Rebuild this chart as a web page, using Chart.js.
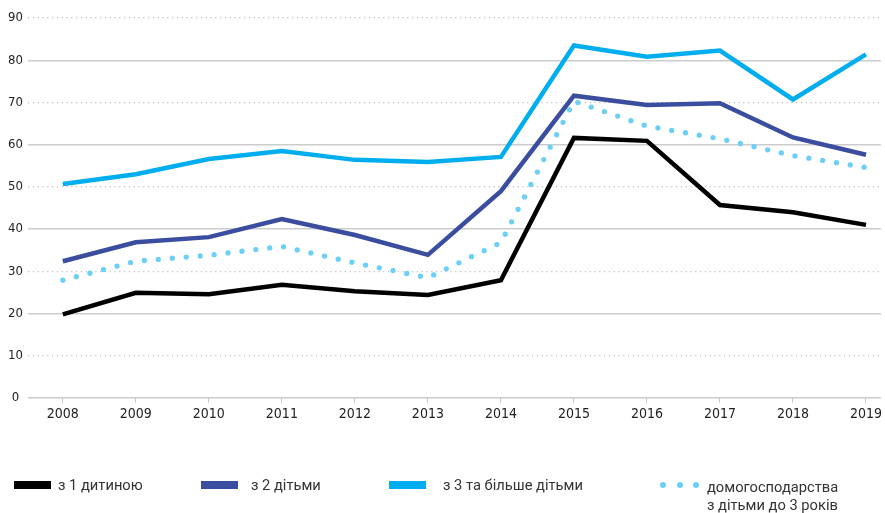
<!DOCTYPE html>
<html lang="uk">
<head>
  <meta charset="UTF-8">
  <title>Домогосподарства з дітьми</title>
  <script src="https://cdn.jsdelivr.net/npm/chart.js"></script>
  <style>
    body { margin: 0; background: #fff; }
    #wrap { position: relative; width: 885px; height: 513px; }
    .mark { position: absolute; }
    .label { position: absolute; font-family: Roboto, "Noto Sans", sans-serif; font-size: 14.7px; line-height: 18px; color: #333; white-space: nowrap; }
    .dot { position: absolute; width: 6px; height: 6px; border-radius: 50%; }
  </style>
</head>
<body>
  <div id="wrap">
    <canvas id="chart" width="885" height="513"></canvas>
    <div id="legend"></div>
  </div>

  <script>
    const years = [2008, 2009, 2010, 2011, 2012, 2013, 2014, 2015, 2016, 2017, 2018, 2019];

    const oneChild = [19.8, 24.9, 24.6, 26.8, 25.3, 24.4, 27.9, 61.6, 60.9, 45.7, 44.0, 41.0];
    const twoChildren = [32.4, 36.9, 38.1, 42.4, 38.6, 33.9, 49.0, 71.6, 69.4, 69.8, 61.7, 57.6];
    const threePlus = [50.7, 53.0, 56.6, 58.5, 56.4, 55.9, 57.1, 83.5, 80.8, 82.3, 70.7, 81.4];
    const under3 = [27.9, 32.4, 33.8, 35.9, 32.0, 28.5, 36.8, 70.3, 64.4, 61.4, 57.4, 54.6];

    const seriesNames = ['з 1 дитиною', 'з 2 дітьми', 'з 3 та більше дітьми', ['домогосподарства', 'з дітьми до 3 років']];
    const seriesColors = ['#000000', '#3a4d9f', '#00aeef', '#6ccff6'];
    const yTicks = [0, 10, 20, 30, 40, 50, 60, 70, 80, 90];

    const axisFont = { family: '"Liberation Sans Narrow", "DejaVu Sans Condensed", Roboto, sans-serif' };

    function points(values) {
      return years.map((y, i) => ({ x: y, y: values[i] }));
    }

    const ctx = document.getElementById('chart').getContext('2d');

    new Chart(ctx, {
      type: 'line',
      data: {
        datasets: [
          {
            label: seriesNames[3][0],
            data: points(under3),
            borderColor: seriesColors[3],
            borderWidth: 5.3,
            borderDash: [0, 14],
            borderCapStyle: 'round',
            order: 0
          },
          {
            label: seriesNames[0],
            data: points(oneChild),
            borderColor: seriesColors[0],
            borderWidth: 4.5,
            order: 1
          },
          {
            label: seriesNames[1],
            data: points(twoChildren),
            borderColor: seriesColors[1],
            borderWidth: 4.5,
            order: 2
          },
          {
            label: seriesNames[2],
            data: points(threePlus),
            borderColor: seriesColors[2],
            borderWidth: 4.5,
            order: 3
          }
        ]
      },
      options: {
        responsive: false,
        animation: false,
        events: [],
        elements: {
          point: { radius: 0 },
          line: { tension: 0, fill: false }
        },
        layout: { padding: { top: 18, left: 0, right: 0, bottom: 0 } },
        plugins: {
          legend: { display: false },
          tooltip: { enabled: false }
        },
        scales: {
          x: {
            type: 'linear',
            min: 2007.523,
            max: 2019.204,
            afterBuildTicks: s => { s.ticks = years.map(v => ({ value: v })); },
            afterFit: s => { s.height = 115; },
            grid: {
              drawOnChartArea: false,
              drawTicks: true,
              tickLength: 5,
              tickColor: '#c8c8c8',
              tickWidth: 1
            },
            border: { display: false },
            ticks: {
              padding: 3,
              color: '#222',
              font: Object.assign({ size: 14 }, axisFont),
              maxRotation: 0,
              autoSkip: false,
              callback: v => String(v)
            }
          },
          y: {
            min: 0,
            max: 90,
            afterBuildTicks: s => { s.ticks = yTicks.map(v => ({ value: v })); },
            afterFit: s => { s.width = 28; },
            grid: {
              drawTicks: false,
              color: c => (c.tick && c.tick.value % 20 ? '#bdbdbd' : '#cccccc'),
              lineWidth: c => (c.tick && c.tick.value % 20 ? 1.2 : 1.4)
            },
            border: {
              display: false,
              dash: c => (c.tick && c.tick.value % 20 ? [1.2, 3.6] : [])
            },
            ticks: {
              padding: 5,
              crossAlign: 'center',
              color: '#222',
              font: Object.assign({ size: 13 }, axisFont)
            }
          }
        }
      }
    });

    // legend under the chart
    const legend = document.getElementById('legend');
    const markLeft = [14, 201, 389, 663];
    const textLeft = [58, 251, 443, 707];

    seriesNames.forEach((name, s) => {
      const left = markLeft[s];
      if (s < 3) {
        const m = document.createElement('div');
        m.className = 'mark';
        m.style.cssText = `left:${left}px;top:481px;width:37px;height:8px;background:${seriesColors[s]}`;
        legend.appendChild(m);
        const t = document.createElement('div');
        t.className = 'label';
        t.style.cssText = `left:${textLeft[s]}px;top:476px`;
        t.textContent = name;
        legend.appendChild(t);
      } else {
        [0, 16.5, 33].forEach(dx => {
          const d = document.createElement('div');
          d.className = 'dot';
          d.style.cssText = `left:${left - 3 + dx}px;top:482px;background:${seriesColors[s]}`;
          legend.appendChild(d);
        });
        const t = document.createElement('div');
        t.className = 'label';
        t.style.cssText = `left:${textLeft[s]}px;top:478px`;
        t.innerHTML = name.join('<br>');
        legend.appendChild(t);
      }
    });
  </script>
</body>
</html>
